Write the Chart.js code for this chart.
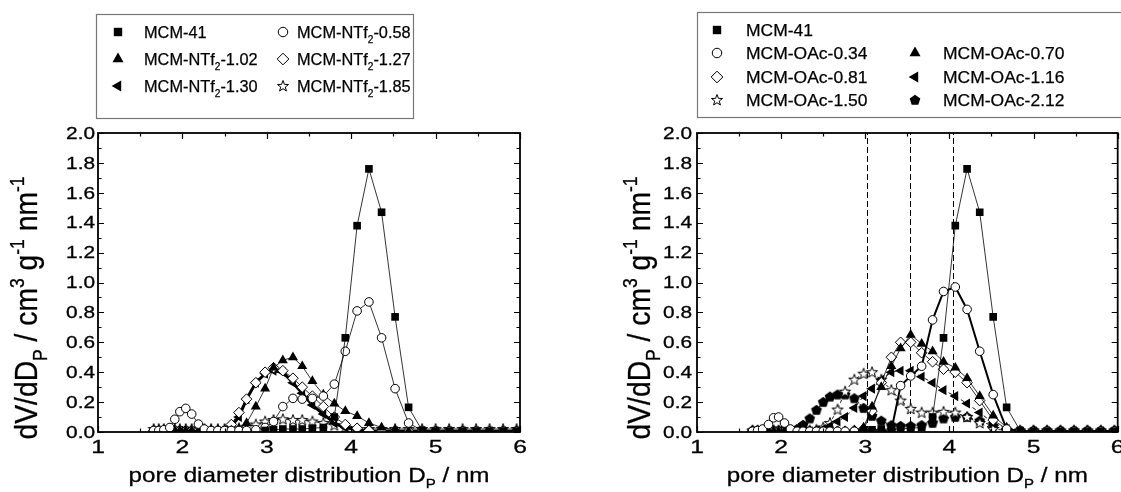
<!DOCTYPE html>
<html>
<head>
<meta charset="utf-8">
<script src="https://cdn.jsdelivr.net/npm/chart.js@4.4.1/dist/chart.umd.min.js"></script>
<style>
    html, body { margin: 0; padding: 0; background: #fff; overflow: hidden; }
    #wrap { position: relative; width: 1121px; height: 492px; overflow: hidden; }
    .panel { position: absolute; top: 0; height: 492px; }
    #left { left: 0; width: 560px; }
    #right { left: 560px; width: 564px; }
</style>
</head>
<body>
<div id="wrap">
    <div class="panel" id="left"><canvas id="chartL"></canvas></div>
    <div class="panel" id="right"><canvas id="chartR"></canvas></div>
</div>
<script>
// pore diameters (nm) shared by all curves
const poreD = [1.66, 1.72, 1.78, 1.85, 1.91, 1.97, 2.04, 2.11, 2.19, 2.26, 2.34, 2.42, 2.50, 2.58, 2.67, 2.76, 2.87, 2.98, 3.08, 3.19,
    3.31, 3.42, 3.54, 3.67, 3.80, 3.93, 4.07, 4.21, 4.36, 4.52, 4.68, 4.84, 5.00, 5.16, 5.32, 5.48, 5.64, 5.80, 5.96];

const mcm41 = [null, null, null, null, null, null, null, null, null, null, null, null, null, null, null, null, null, 0.01, 0.015, 0.02,
    0.02, 0.02, 0.025, 0.03, 0.10, 0.63, 1.38, 1.76, 1.47, 0.77, 0.165, 0.01, 0.005, 0.005, 0.005, 0.005, 0.005, 0.005, 0.005];

// left panel: NTf2 samples
const ntf058 = [0.01, 0.01, 0.015, 0.03, 0.085, 0.136, 0.158, 0.12, 0.053, 0.02, 0.01, 0.01, 0.01, 0.01, 0.01, 0.01, 0.015, 0.03, 0.07, 0.17,
    0.225, 0.22, 0.225, 0.24, 0.32, 0.54, 0.81, 0.87, 0.63, 0.29, 0.06, 0.01, 0.005, 0.005, 0.005, 0.005, 0.005, 0.005, 0.005];
const ntf102 = [0.01, 0.01, 0.01, 0.01, 0.01, 0.01, 0.01, 0.01, 0.01, 0.01, 0.01, 0.01, 0.01, 0.01, 0.02, 0.06, 0.17, 0.29, 0.43, 0.48,
    0.50, 0.44, 0.34, 0.25, 0.19, 0.14, 0.107, 0.06, 0.03, 0.015, 0.005, 0.005, 0.005, 0.005, 0.005, 0.005, 0.005, 0.005, 0.005];
const ntf127 = [0.01, 0.01, 0.01, 0.01, 0.01, 0.01, 0.01, 0.01, 0.01, 0.01, 0.01, 0.01, 0.01, 0.05, 0.13, 0.22, 0.33, 0.40, 0.43, 0.41,
    0.36, 0.30, 0.24, 0.17, 0.10, 0.05, 0.025, 0.01, 0.005, 0.005, 0.005, 0.005, 0.005, 0.005, 0.005, 0.005, 0.005, 0.005, 0.005];
const ntf130 = [0.005, 0.005, 0.005, 0.005, 0.005, 0.005, 0.005, 0.005, 0.005, 0.005, 0.005, 0.005, 0.01, 0.04, 0.10, 0.22, 0.33, 0.39, 0.41, 0.40,
    0.33, 0.26, 0.18, 0.12, 0.06, 0.03, 0.015, 0.005, 0.005, 0.005, 0.005, 0.005, 0.005, 0.005, 0.005, 0.005, 0.005, 0.005, 0.005];
const ntf185 = [0.02, 0.02, 0.02, 0.02, 0.02, 0.02, 0.02, 0.02, 0.02, 0.02, 0.02, 0.02, 0.02, 0.02, 0.025, 0.035, 0.05, 0.07, 0.08, 0.085,
    0.08, 0.08, 0.07, 0.06, 0.045, 0.03, 0.02, 0.02, 0.02, 0.02, 0.02, 0.02, 0.02, 0.02, 0.02, 0.02, 0.02, 0.02, 0.02];

// right panel: OAc samples
const oac034 = [0.005, 0.01, 0.02, 0.05, 0.095, 0.10, 0.06, 0.02, 0.005, 0.005, 0.005, 0.005, 0.005, 0.005, 0.005, 0.005, 0.005, 0.005, 0.005, 0.005,
    0.01, 0.31, 0.375, 0.44, 0.75, 0.94, 0.97, 0.82, 0.54, 0.25, 0.02, 0.005, 0.005, 0.005, 0.005, 0.005, 0.005, 0.005, 0.005];
const oac070 = [0.005, 0.005, 0.005, 0.005, 0.005, 0.005, 0.005, 0.005, 0.005, 0.005, 0.005, 0.005, 0.005, 0.005, 0.005, 0.005, 0.01, 0.03, 0.17, 0.30,
    0.44, 0.56, 0.65, 0.59, 0.54, 0.47, 0.43, 0.36, 0.24, 0.11, 0.03, 0.005, 0.005, 0.005, 0.005, 0.005, 0.005, 0.005, 0.005];
const oac081 = [0.005, 0.005, 0.005, 0.005, 0.005, 0.005, 0.005, 0.005, 0.005, 0.005, 0.005, 0.005, 0.005, 0.005, 0.005, 0.005, 0.01, 0.02, 0.14, 0.33,
    0.50, 0.60, 0.60, 0.53, 0.47, 0.42, 0.40, 0.33, 0.21, 0.08, 0.02, 0.005, 0.005, 0.005, 0.005, 0.005, 0.005, 0.005, 0.005];
const oac116 = [0.005, 0.005, 0.005, 0.005, 0.005, 0.005, 0.005, 0.005, 0.005, 0.005, 0.005, 0.01, 0.02, 0.04, 0.07, 0.10, 0.16, 0.24, 0.29, 0.35,
    0.40, 0.41, 0.41, 0.37, 0.33, 0.28, 0.24, 0.19, 0.13, 0.06, 0.02, 0.005, 0.005, 0.005, 0.005, 0.005, 0.005, 0.005, 0.005];
const oac150 = [0.01, 0.01, 0.01, 0.01, 0.01, 0.01, 0.01, 0.01, 0.01, 0.01, 0.01, 0.015, 0.03, 0.06, 0.15, 0.27, 0.35, 0.39, 0.40, 0.35,
    0.28, 0.21, 0.155, 0.13, 0.13, 0.135, 0.13, 0.10, 0.06, 0.02, 0.01, 0.01, 0.01, 0.01, 0.01, 0.01, 0.01, 0.01, 0.01];
const oac212 = [0.01, 0.01, 0.01, 0.01, 0.01, 0.01, 0.01, 0.01, 0.02, 0.047, 0.09, 0.147, 0.20, 0.236, 0.25, 0.25, 0.225, 0.16, 0.107, 0.075,
    0.045, 0.04, 0.04, 0.045, 0.06, 0.09, 0.10, 0.10, 0.075, 0.04, 0.015, 0.01, 0.01, 0.01, 0.01, 0.01, 0.01, 0.01, 0.01];

// dashed guide lines in the right panel (nm)
const guideLines = [3.02, 3.53, 4.04];

const xTickLabels = ["1", "2", "3", "4", "5", "6"];
const yTickLabels = ["0.0", "0.2", "0.4", "0.6", "0.8", "1.0", "1.2", "1.4", "1.6", "1.8", "2.0"];
const xTitle = "pore diameter distribution D_P / nm";
const yTitle = "dV/dD_P / cm^3 g^-1 nm^-1";

const FAMILY = '"Liberation Sans", Arial, sans-serif';

// "_X" = one-char subscript, "^..." = superscript up to next space
function parseRich(s) {
    const parts = [];
    let buf = "";
    let i = 0;
    while (i < s.length) {
        const c = s[i];
        if (c === "_" || c === "^") {
            if (buf) { parts.push([buf, "n"]); buf = ""; }
            let j = i + 1, t = "";
            if (c === "_") { t = s[j]; j++; }
            else { while (j < s.length && s[j] !== " ") { t += s[j]; j++; } }
            parts.push([t, c === "_" ? "sub" : "sup"]);
            i = j;
        } else {
            buf += c;
            i++;
        }
    }
    if (buf) parts.push([buf, "n"]);
    return parts;
}

function drawRich(ctx, text, x, y, o) {
    const parts = parseRich(text);
    const fs = p => (p[1] === "n" ? o.size : o.size * 0.62);
    let w = 0;
    const widths = parts.map(p => {
        ctx.font = fs(p) + "px " + FAMILY;
        const m = ctx.measureText(p[0]).width;
        w += m;
        return m;
    });
    const sx = o.width ? o.width / w : (o.sx || 1);
    ctx.save();
    ctx.translate(x, y);
    if (o.rot) ctx.rotate(o.rot);
    ctx.scale(sx, 1);
    let cx = o.align === "center" ? -w / 2 : o.align === "right" ? -w : 0;
    ctx.fillStyle = "#000";
    ctx.strokeStyle = "#000";
    ctx.lineWidth = o.bold || 0;
    ctx.textBaseline = "alphabetic";
    ctx.textAlign = "left";
    parts.forEach((p, i) => {
        ctx.font = fs(p) + "px " + FAMILY;
        const dy = p[1] === "sub" ? o.size * 0.3 : p[1] === "sup" ? -o.size * 0.42 : 0;
        ctx.fillText(p[0], cx, dy);
        if (o.bold) ctx.strokeText(p[0], cx, dy);
        cx += widths[i];
    });
    ctx.restore();
}

function makeMarker(kind) {
    const c = document.createElement("canvas");
    c.width = 14;
    c.height = 14;
    const g = c.getContext("2d");
    g.translate(7, 7.3);
    g.beginPath();
    if (kind === "star") {
        for (let k = 0; k < 10; k++) {
            const r = k % 2 ? 2.4 : 5.8;
            const a = -Math.PI / 2 + k * Math.PI / 5;
            g.lineTo(r * Math.cos(a), r * Math.sin(a));
        }
        g.closePath();
        g.fillStyle = "#fff";
        g.fill();
        g.lineWidth = 1;
        g.strokeStyle = "#000";
        g.stroke();
    } else {
        for (let k = 0; k < 5; k++) {
            const a = -Math.PI / 2 + k * 2 * Math.PI / 5;
            g.lineTo(5.6 * Math.cos(a), 5.6 * Math.sin(a));
        }
        g.closePath();
        g.fillStyle = "#000";
        g.fill();
    }
    return c;
}

const markers = {
    square: { pointStyle: "rect", pointRadius: 5.4, pointBackgroundColor: "#000", pointBorderColor: "#000", pointBorderWidth: 0 },
    circle: { pointStyle: "circle", pointRadius: 4.3, pointBackgroundColor: "#fff", pointBorderColor: "#000", pointBorderWidth: 1 },
    triangle: { pointStyle: "triangle", pointRadius: 5.8, pointBackgroundColor: "#000", pointBorderColor: "#000", pointBorderWidth: 0 },
    leftTri: { pointStyle: "triangle", pointRotation: -90, pointRadius: 5.8, pointBackgroundColor: "#000", pointBorderColor: "#000", pointBorderWidth: 0 },
    diamond: { pointStyle: "rectRot", pointRadius: 5.3, pointBackgroundColor: "#fff", pointBorderColor: "#000", pointBorderWidth: 1 },
    star: { pointStyle: makeMarker("star"), pointRadius: 5, pointBackgroundColor: "#fff", pointBorderColor: "#000", pointBorderWidth: 1 },
    pentagon: { pointStyle: makeMarker("pentagon"), pointRadius: 5, pointBackgroundColor: "#000", pointBorderColor: "#000", pointBorderWidth: 0 }
};

function makeSet(label, ys, mk, lineW, dash) {
    const pts = [];
    poreD.forEach((x, i) => { if (ys[i] !== null) pts.push({ x: x, y: ys[i] }); });
    return Object.assign({
        label: label,
        data: pts,
        showLine: true,
        borderColor: "#000",
        borderWidth: lineW,
        borderDash: dash || [],
        pointHoverRadius: 0
    }, markers[mk]);
}

function drawLegendMarker(ctx, ds, x, y) {
    ctx.save();
    ctx.fillStyle = ds.pointBackgroundColor;
    ctx.strokeStyle = ds.pointBorderColor;
    ctx.lineWidth = ds.pointBorderWidth;
    Chart.helpers.drawPoint(ctx, {
        pointStyle: ds.pointStyle,
        radius: ds.pointRadius * 1.1,
        rotation: ds.pointRotation || 0,
        borderWidth: ds.pointBorderWidth
    }, x, y);
    ctx.restore();
}

const framePlugin = {
    id: "frame",
    beforeDatasetsDraw(chart, args, opts) {
        const { ctx, chartArea: a, scales: { x } } = chart;
        (opts.guides || []).forEach(v => {
            const px = Math.round(x.getPixelForValue(v)) + 0.5;
            ctx.save();
            ctx.strokeStyle = "#000";
            ctx.lineWidth = 1;
            ctx.setLineDash([6, 3]);
            ctx.beginPath();
            ctx.moveTo(px, a.bottom);
            ctx.lineTo(px, a.top);
            ctx.stroke();
            ctx.restore();
        });
    },
    afterDraw(chart, args, opts) {
        const { ctx, chartArea: a, scales: { x, y } } = chart;
        ctx.save();
        ctx.strokeStyle = "#000";
        ctx.lineWidth = 1.8;
        ctx.strokeRect(a.left, a.top, a.right - a.left, a.bottom - a.top);

        // inward ticks, major + minor, on all four sides
        ctx.lineWidth = 1.2;
        ctx.beginPath();
        const xs = xTickLabels.map(parseFloat);
        xs.forEach((v, i) => {
            const marks = [[v, 6]];
            if (i < xs.length - 1) marks.push([(v + xs[i + 1]) / 2, 3.5]);
            marks.forEach(([t, len]) => {
                const px = Math.round(x.getPixelForValue(t)) + 0.5;
                ctx.moveTo(px, a.bottom); ctx.lineTo(px, a.bottom - len);
                ctx.moveTo(px, a.top); ctx.lineTo(px, a.top + len);
            });
        });
        const ys = yTickLabels.map(parseFloat);
        ys.forEach((v, i) => {
            const marks = [[v, 6]];
            if (i < ys.length - 1) marks.push([(v + ys[i + 1]) / 2, 3.5]);
            marks.forEach(([t, len]) => {
                const py = Math.round(y.getPixelForValue(t)) + 0.5;
                ctx.moveTo(a.left, py); ctx.lineTo(a.left + len, py);
                ctx.moveTo(a.right, py); ctx.lineTo(a.right - len, py);
            });
        });
        ctx.stroke();
        ctx.restore();

        xTickLabels.forEach(lab => {
            drawRich(ctx, lab, x.getPixelForValue(parseFloat(lab)), 453, { size: 19, sx: 1.3, align: "center", bold: 0.3 });
        });
        yTickLabels.forEach(lab => {
            drawRich(ctx, lab, a.left - opts.yLabelGap, y.getPixelForValue(parseFloat(lab)) + 5.7, { size: 16, sx: 1.3, align: "right", bold: 0.3 });
        });
        drawRich(ctx, xTitle, (a.left + a.right) / 2, 482, { size: 21, width: 361, align: "center", bold: 0.3 });
        drawRich(ctx, yTitle, opts.yTitleX, 308, { size: 32, width: 263, rot: -Math.PI / 2, align: "center", bold: 0.3 });

        // legend box
        const lg = opts.legend;
        ctx.save();
        ctx.strokeStyle = "#777";
        ctx.lineWidth = 1.2;
        ctx.strokeRect(lg.box[0] + 0.5, lg.box[1] + 0.5, lg.box[2], lg.box[3]);
        ctx.restore();
        chart.data.datasets.forEach((ds, i) => {
            const [col, row] = lg.cells[i];
            const cy = lg.rowY[row];
            drawLegendMarker(ctx, ds, lg.markerX[col], cy);
            drawRich(ctx, ds.label, lg.textX[col], cy + 6, { size: 16.5, sx: lg.sx, align: "left", bold: 0.25 });
        });
    }
};

function makeChart(id, datasets, cfg) {
    return new Chart(document.getElementById(id), {
        type: "scatter",
        data: { datasets: datasets },
        options: {
            animation: false,
            responsive: true,
            maintainAspectRatio: false,
            events: [],
            layout: { padding: cfg.padding },
            plugins: {
                legend: { display: false },
                tooltip: { enabled: false },
                frame: cfg.frame
            },
            scales: {
                x: {
                    type: "linear", min: 1, max: 6,
                    grid: { display: false }, border: { display: false }, ticks: { display: false },
                    afterFit: function (scale) { scale.height = 60; }
                },
                y: {
                    type: "linear", min: 0, max: 2,
                    grid: { display: false }, border: { display: false }, ticks: { display: false },
                    afterFit: function (scale) { scale.width = cfg.yAxisWidth; }
                }
            }
        },
        plugins: [framePlugin]
    });
}

makeChart("chartL", [
    makeSet("MCM-41", mcm41, "square", 0.8),
    makeSet("MCM-NTf_2-0.58", ntf058, "circle", 0.8),
    makeSet("MCM-NTf_2-1.02", ntf102, "triangle", 0.8),
    makeSet("MCM-NTf_2-1.27", ntf127, "diamond", 0.8),
    makeSet("MCM-NTf_2-1.30", ntf130, "leftTri", 3),
    makeSet("MCM-NTf_2-1.85", ntf185, "star", 0.8)
], {
    padding: { top: 133, right: 40, left: 0, bottom: 0 },
    yAxisWidth: 98,
    frame: {
        yLabelGap: 3,
        yTitleX: 37,
        legend: {
            box: [96, 14, 317, 104],
            sx: 0.99,
            markerX: [118, 283],
            textX: [144, 297],
            rowY: [32, 59, 86],
            cells: [[0, 0], [1, 0], [0, 1], [1, 1], [0, 2], [1, 2]]
        }
    }
});

makeChart("chartR", [
    makeSet("MCM-41", mcm41, "square", 0.8),
    makeSet("MCM-OAc-0.34", oac034, "circle", 2),
    makeSet("MCM-OAc-0.70", oac070, "triangle", 0.8),
    makeSet("MCM-OAc-0.81", oac081, "diamond", 0.8),
    makeSet("MCM-OAc-1.16", oac116, "leftTri", 0.9, [4, 3]),
    makeSet("MCM-OAc-1.50", oac150, "star", 0.9, [3, 3]),
    makeSet("MCM-OAc-2.12", oac212, "pentagon", 0.9, [2, 2])
], {
    padding: { top: 133, right: 2, left: 0, bottom: 0 },
    yAxisWidth: 137,
    frame: {
        guides: guideLines,
        yLabelGap: 5,
        yTitleX: 90,
        legend: {
            box: [137, 12, 500, 105],
            sx: 1.06,
            markerX: [157, 355],
            textX: [186, 383],
            rowY: [30, 53, 77, 100],
            cells: [[0, 0], [0, 1], [1, 1], [0, 2], [1, 2], [0, 3], [1, 3]]
        }
    }
});
</script>
</body>
</html>
